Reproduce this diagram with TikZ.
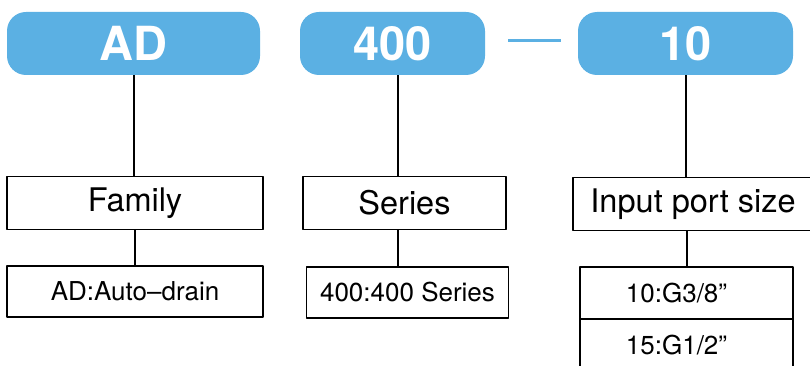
\documentclass[tikz,border=0pt]{standalone}
\usepackage{fontspec}
\setmainfont{TeX Gyre Heros}
\definecolor{pillblue}{RGB}{91,176,227}
\tikzset{
	pill/.style={fill=pillblue, rounded corners=19pt, minimum height=63pt, text=white, font=\fontsize{47}{47}\selectfont\bfseries, inner sep=0pt},
	specbox/.style={draw, line width=1.8pt, minimum height=53pt, font=\fontsize{32.5}{32.5}\selectfont, inner sep=0pt},
	valbox/.style={draw, line width=1.8pt, minimum height=52pt, font=\fontsize{26}{26}\selectfont, inner sep=0pt},
	link/.style={line width=2pt}
}
\begin{document}
\begin{tikzpicture}[x=1pt, y=-1pt, line join=round]
		\useasboundingbox (0,0) rectangle (810,366);
		% code blocks
		\node[pill, minimum width=253pt] (ad) at (133.5,43.5) {AD};
		\node[pill, minimum width=185pt] (ser) at (392.5,43.5) {400};
		\node[pill, minimum width=215pt] (size) at (685.5,43.5) {10};
		\coordinate (d1) at (508,40.5);
		\coordinate (d2) at (561,40.5);
		\draw[pillblue, line width=2.6pt] (d1)--(d2);
		% meanings
		\node[specbox, minimum width=256pt] (fam) at (135,203) {\raisebox{-3pt}{Family}};
		\node[specbox, minimum width=203pt] (sers) at (404.5,203) {Series};
		\node[specbox, minimum width=240pt] (port) at (693,204) {Input port size};
		\node[valbox, minimum width=256pt, minimum height=51pt] (famv) at (135,291.5) {AD:Auto--drain};
		\node[valbox, minimum width=202pt, minimum height=51pt] (sersv) at (407.5,292.5) {400:400 Series};
		\node[valbox, minimum width=213pt] (portv1) at (686.5,293) {10:G3/8''\hspace*{20pt}};
		\node[valbox, minimum width=213pt] (portv2) at (686.5,345) {15:G1/2''\hspace*{20pt}};
		% links
		\draw[link] (ad.south)--(ad.south |- fam.north);
		\draw[link] ([xshift=5pt]ser.south)--([xshift=5pt]ser.south |- sers.north);
		\draw[link] (size.south)--(size.south |- port.north);
		\draw[link] (fam.south)--(famv.north);
		\draw[link] ([xshift=-7pt]sers.south)--([xshift=-7pt]sers.south |- sersv.north);
		\draw[link] (portv1.north |- port.south)--(portv1.north);
	\end{tikzpicture}
\end{document}
